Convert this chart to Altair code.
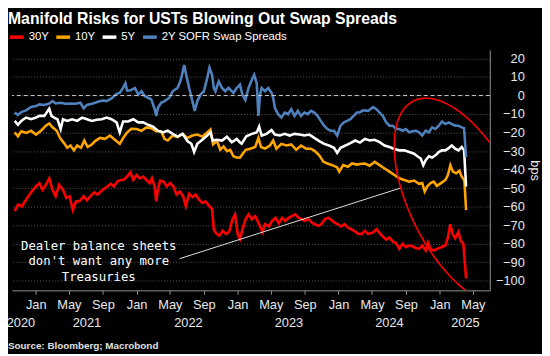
import altair as alt
import numpy as np
import pandas as pd

# ---------------- data (decimal year, bps) ----------------
SERIES = ["30Y", "10Y", "5Y", "2Y SOFR Swap Spreads"]
COLORS = ["#ff0000", "#ffa500", "#ffffff", "#4f81bd"]

S30Y = [(2020.792,-62.4),(2020.824,-58.9),(2020.863,-59.8),(2020.905,-56.2),(2020.954,-52.3),(2021.003,-49.1),(2021.036,-47.3),(2021.068,-50.9),(2021.100,-48.2),(2021.134,-44.7),(2021.166,-50.9),(2021.198,-54.4),(2021.231,-48.2),(2021.270,-50.9),(2021.302,-55.3),(2021.335,-54.4),(2021.368,-61.9),(2021.400,-57.1),(2021.432,-57.1),(2021.475,-54.4),(2021.507,-56.6),(2021.540,-54.4),(2021.579,-52.3),(2021.612,-53.5),(2021.644,-51.8),(2021.676,-50.5),(2021.709,-49.1),(2021.741,-47.7),(2021.774,-49.1),(2021.807,-46.5),(2021.839,-45.6),(2021.871,-45.5),(2021.904,-43.8),(2021.937,-41.5),(2021.966,-45.6),(2021.998,-42.9),(2022.031,-44.7),(2022.063,-43.8),(2022.096,-45.6),(2022.129,-47.3),(2022.151,-44.7),(2022.178,-49.1),(2022.193,-57.1),(2022.210,-50.9),(2022.232,-45.9),(2022.265,-46.5),(2022.298,-49.1),(2022.330,-47.3),(2022.363,-49.1),(2022.395,-53.5),(2022.427,-51.8),(2022.460,-54.4),(2022.486,-59.8),(2022.519,-53.0),(2022.551,-54.8),(2022.583,-53.5),(2022.617,-56.2),(2022.649,-58.0),(2022.681,-57.1),(2022.714,-59.4),(2022.746,-61.2),(2022.763,-72.2),(2022.785,-74.3),(2022.818,-75.7),(2022.851,-73.0),(2022.883,-74.8),(2022.915,-73.6),(2022.948,-66.8),(2022.974,-64.2),(2023.000,-74.8),(2023.022,-77.5),(2023.049,-72.0),(2023.080,-66.5),(2023.107,-64.2),(2023.140,-66.8),(2023.173,-65.1),(2023.205,-68.6),(2023.244,-73.6),(2023.270,-69.5),(2023.309,-70.7),(2023.341,-67.7),(2023.374,-66.0),(2023.407,-69.0),(2023.439,-66.0),(2023.471,-67.7),(2023.504,-66.0),(2023.537,-65.1),(2023.569,-64.2),(2023.602,-66.0),(2023.634,-66.8),(2023.666,-67.7),(2023.699,-66.5),(2023.732,-68.6),(2023.764,-69.5),(2023.797,-70.4),(2023.829,-69.5),(2023.861,-66.8),(2023.895,-66.0),(2023.927,-67.2),(2023.959,-68.6),(2023.992,-69.5),(2024.024,-70.7),(2024.057,-69.5),(2024.090,-71.3),(2024.122,-72.2),(2024.154,-73.0),(2024.187,-74.5),(2024.226,-74.8),(2024.259,-73.0),(2024.291,-74.8),(2024.340,-73.9),(2024.373,-72.2),(2024.405,-74.3),(2024.437,-76.1),(2024.470,-77.8),(2024.502,-76.6),(2024.535,-78.9),(2024.568,-79.6),(2024.600,-82.8),(2024.632,-80.1),(2024.665,-81.9),(2024.698,-81.0),(2024.730,-81.4),(2024.763,-82.3),(2024.795,-82.8),(2024.827,-81.0),(2024.861,-83.7),(2024.883,-79.3),(2024.909,-82.8),(2024.941,-83.7),(2024.973,-82.8),(2025.012,-81.9),(2025.056,-81.0),(2025.081,-76.6),(2025.105,-69.5),(2025.127,-74.8),(2025.153,-77.1),(2025.185,-73.6),(2025.208,-78.4),(2025.234,-80.1),(2025.261,-98.8)]

S10Y = [(2020.792,-19.9),(2020.824,-22.0),(2020.857,-19.3),(2020.905,-20.2),(2020.954,-19.0),(2021.003,-21.1),(2021.052,-19.0),(2021.100,-16.3),(2021.134,-15.1),(2021.166,-17.2),(2021.208,-19.0),(2021.241,-22.9),(2021.280,-25.7),(2021.312,-28.2),(2021.344,-27.0),(2021.378,-29.6),(2021.410,-27.0),(2021.449,-28.2),(2021.481,-24.3),(2021.514,-27.8),(2021.556,-26.4),(2021.588,-24.6),(2021.637,-22.9),(2021.686,-23.4),(2021.735,-21.6),(2021.783,-23.9),(2021.832,-26.1),(2021.871,-22.5),(2021.904,-20.0),(2021.946,-18.0),(2021.998,-18.1),(2022.047,-19.0),(2022.096,-17.2),(2022.144,-17.6),(2022.193,-19.3),(2022.242,-19.3),(2022.275,-23.4),(2022.307,-24.3),(2022.356,-21.6),(2022.405,-22.5),(2022.454,-20.7),(2022.502,-22.9),(2022.551,-21.6),(2022.600,-21.1),(2022.649,-22.2),(2022.698,-19.9),(2022.730,-18.3),(2022.756,-26.4),(2022.795,-24.6),(2022.827,-29.3),(2022.860,-27.5),(2022.893,-30.0),(2022.925,-29.3),(2022.958,-32.8),(2022.990,-33.5),(2023.022,-33.6),(2023.055,-31.0),(2023.080,-29.3),(2023.124,-28.7),(2023.173,-27.8),(2023.205,-22.9),(2023.231,-27.8),(2023.270,-28.7),(2023.319,-27.0),(2023.351,-24.3),(2023.383,-28.7),(2023.432,-26.1),(2023.481,-27.0),(2023.530,-26.4),(2023.579,-29.3),(2023.627,-27.0),(2023.676,-28.7),(2023.725,-28.7),(2023.764,-30.0),(2023.807,-32.3),(2023.849,-35.8),(2023.888,-36.7),(2023.937,-37.6),(2023.985,-38.8),(2024.005,-41.1),(2024.044,-37.6),(2024.090,-38.5),(2024.132,-36.7),(2024.180,-37.3),(2024.210,-37.0),(2024.259,-36.7),(2024.307,-37.9),(2024.356,-35.8),(2024.405,-37.6),(2024.454,-39.4),(2024.502,-41.1),(2024.551,-42.9),(2024.600,-44.7),(2024.649,-45.6),(2024.698,-46.5),(2024.746,-45.9),(2024.795,-47.7),(2024.827,-47.3),(2024.851,-51.8),(2024.876,-49.1),(2024.909,-47.3),(2024.941,-46.5),(2024.973,-48.8),(2025.012,-47.3),(2025.056,-45.6),(2025.081,-42.9),(2025.105,-37.6),(2025.130,-41.1),(2025.163,-42.0),(2025.195,-40.6),(2025.218,-43.8),(2025.244,-45.9),(2025.261,-61.9)]

S5Y = [(2020.792,-13.7),(2020.824,-15.8),(2020.857,-13.7),(2020.905,-11.9),(2020.954,-12.8),(2021.003,-11.9),(2021.036,-11.0),(2021.085,-11.0),(2021.134,-7.1),(2021.156,-11.0),(2021.182,-11.9),(2021.215,-12.8),(2021.247,-18.1),(2021.270,-12.8),(2021.312,-13.7),(2021.361,-12.8),(2021.410,-13.7),(2021.459,-11.9),(2021.507,-12.8),(2021.556,-13.7),(2021.605,-13.1),(2021.654,-12.8),(2021.702,-11.9),(2021.751,-12.8),(2021.800,-14.5),(2021.832,-19.9),(2021.865,-14.0),(2021.914,-14.0),(2021.966,-12.8),(2022.015,-14.5),(2022.063,-14.5),(2022.112,-15.8),(2022.161,-16.8),(2022.210,-19.0),(2022.259,-19.9),(2022.307,-19.0),(2022.356,-20.7),(2022.405,-22.2),(2022.454,-20.7),(2022.502,-24.6),(2022.541,-26.1),(2022.568,-30.5),(2022.600,-26.1),(2022.649,-23.9),(2022.698,-21.6),(2022.730,-19.9),(2022.753,-24.3),(2022.795,-23.9),(2022.844,-24.3),(2022.893,-22.2),(2022.941,-25.2),(2022.990,-23.4),(2023.020,-25.2),(2023.039,-26.0),(2023.085,-22.0),(2023.140,-20.7),(2023.188,-19.9),(2023.212,-16.8),(2023.237,-21.6),(2023.286,-20.7),(2023.335,-18.6),(2023.368,-21.1),(2023.417,-21.6),(2023.465,-20.7),(2023.514,-21.6),(2023.563,-20.7),(2023.612,-21.1),(2023.660,-21.6),(2023.709,-21.1),(2023.758,-22.9),(2023.807,-24.6),(2023.856,-26.1),(2023.904,-27.0),(2023.953,-28.2),(2023.985,-31.0),(2024.018,-28.2),(2024.066,-27.0),(2024.115,-25.7),(2024.164,-24.3),(2024.210,-25.4),(2024.259,-23.4),(2024.307,-24.3),(2024.356,-23.9),(2024.405,-25.2),(2024.454,-27.0),(2024.502,-27.8),(2024.551,-28.9),(2024.600,-29.6),(2024.649,-29.6),(2024.698,-30.5),(2024.746,-31.4),(2024.779,-32.8),(2024.812,-34.0),(2024.837,-37.6),(2024.861,-34.9),(2024.893,-32.8),(2024.925,-33.5),(2024.958,-32.3),(2024.990,-30.5),(2025.022,-29.6),(2025.056,-29.6),(2025.088,-28.4),(2025.120,-27.0),(2025.153,-28.7),(2025.185,-29.6),(2025.218,-27.8),(2025.241,-29.6),(2025.261,-49.1)]

S2Y = [(2020.792,-9.2),(2020.824,-10.5),(2020.857,-8.9),(2020.905,-8.0),(2020.954,-6.2),(2021.003,-5.7),(2021.036,-4.8),(2021.085,-5.1),(2021.134,-4.3),(2021.166,-3.0),(2021.198,-4.3),(2021.247,-3.9),(2021.296,-4.4),(2021.344,-4.3),(2021.393,-4.4),(2021.442,-3.9),(2021.475,-6.9),(2021.507,-5.1),(2021.556,-4.4),(2021.588,-3.9),(2021.637,-3.0),(2021.670,-2.7),(2021.702,-3.0),(2021.751,-1.6),(2021.800,0.9),(2021.832,1.4),(2021.865,4.1),(2021.888,6.6),(2021.904,2.7),(2021.934,2.7),(2021.982,4.1),(2022.015,0.5),(2022.047,2.3),(2022.080,-0.4),(2022.112,-1.2),(2022.144,-2.1),(2022.178,-7.4),(2022.193,-11.0),(2022.210,-6.6),(2022.242,-3.9),(2022.275,-3.0),(2022.324,-1.2),(2022.356,2.3),(2022.405,4.1),(2022.437,8.5),(2022.470,16.5),(2022.493,10.3),(2022.519,4.1),(2022.551,-3.0),(2022.574,-8.3),(2022.600,-3.0),(2022.632,0.5),(2022.665,2.3),(2022.698,9.4),(2022.720,15.1),(2022.746,11.2),(2022.763,4.1),(2022.779,2.3),(2022.812,7.6),(2022.844,4.1),(2022.876,2.3),(2022.909,4.1),(2022.958,1.4),(2022.990,4.1),(2023.022,5.9),(2023.046,0.5),(2023.075,-2.4),(2023.107,4.1),(2023.140,8.5),(2023.163,11.2),(2023.188,6.7),(2023.205,-11.0),(2023.221,0.5),(2023.237,4.1),(2023.270,2.3),(2023.302,4.1),(2023.335,1.4),(2023.351,-1.2),(2023.368,-6.6),(2023.400,-10.1),(2023.432,-11.9),(2023.465,-9.2),(2023.498,-10.1),(2023.530,-7.4),(2023.563,-11.0),(2023.595,-8.3),(2023.627,-11.0),(2023.660,-9.2),(2023.693,-10.1),(2023.725,-8.3),(2023.758,-9.2),(2023.790,-11.0),(2023.822,-13.7),(2023.856,-16.3),(2023.888,-18.1),(2023.920,-19.0),(2023.953,-19.0),(2023.985,-21.6),(2024.018,-16.3),(2024.051,-14.5),(2024.083,-13.7),(2024.115,-12.8),(2024.148,-11.0),(2024.180,-9.2),(2024.210,-9.0),(2024.242,-8.0),(2024.291,-8.3),(2024.340,-6.2),(2024.373,-7.4),(2024.405,-9.2),(2024.437,-11.0),(2024.470,-14.5),(2024.502,-16.3),(2024.535,-16.3),(2024.568,-18.1),(2024.600,-18.1),(2024.632,-19.0),(2024.665,-18.1),(2024.698,-19.9),(2024.730,-19.3),(2024.763,-19.0),(2024.795,-19.9),(2024.827,-21.6),(2024.861,-19.0),(2024.893,-19.9),(2024.925,-17.2),(2024.958,-18.1),(2024.990,-16.3),(2025.022,-14.0),(2025.056,-15.4),(2025.088,-14.5),(2025.120,-15.4),(2025.153,-16.3),(2025.185,-16.3),(2025.218,-17.2),(2025.241,-17.6),(2025.261,-33.2)]

Y_TICKS = list(range(-100, 21, 10))
MONTH_TICKS = [(y, m) for y in range(2021, 2026) for m in (1, 5, 9) if not (y == 2025 and m == 9)]
YEAR_LABELS = ["2020", "2021", "2022", "2023", "2024", "2025"]
YEAR_POS = [2020.854, 2021.507, 2022.512, 2023.507, 2024.502, 2025.254]

TITLE = "Manifold Risks for USTs Blowing Out Swap Spreads"
SOURCE = "Source: Bloomberg; Macrobond"
NOTE_TEXT = "Dealer balance sheets\ndon't want any more\nTreasuries"
NOTE_POS = (2021.624, -81.4)
NOTE_LINE = [(2022.424, -88.1), (2024.620, -49.8)]
# hand-drawn red ellipse: centre, horizontal half-chord, conjugate half-diameter (year, bps)
ELLIPSE_C = (2025.234, -57.3)
ELLIPSE_U = (0.5756, 0.0)
ELLIPSE_V = (-0.3707, 55.85)


def to_date(t):
    t = np.asarray(t, dtype=float)
    return pd.Timestamp("2021-01-01") + pd.to_timedelta(np.round((t - 2021.0) * 365.25 * 86400), unit="s")


rows = []
for name, pts in zip(SERIES, [S30Y, S10Y, S5Y, S2Y]):
    t, v = zip(*pts)
    rows.append(pd.DataFrame({"date": to_date(t), "value": v, "series": name}))
df = pd.concat(rows, ignore_index=True)

W, H = 485, 244
FONT = "Liberation Sans"

x_scale = alt.Scale(domain=[alt.DateTime(year=2020, month=10, date=7),
                            alt.DateTime(year=2025, month=7, date=1)])
y_scale = alt.Scale(domain=[-105.2, 24.6], nice=False, zero=False)

x_axis = alt.Axis(values=[alt.DateTime(year=y, month=m, date=1) for y, m in MONTH_TICKS],
                  format="%b", title=None, grid=False, labelColor="#e8e8e8",
                  labelFont=FONT, labelFontSize=13, labelAngle=0, labelOverlap=False,
                  labelFlush=False, labelPadding=4, tickColor="#909090", tickSize=4,
                  domainColor="#909090")
y_axis = alt.Axis(orient="right", values=Y_TICKS, grid=True, gridColor="#5a5a5a",
                  gridDash=[1, 2], ticks=False, domainColor="#909090",
                  labelColor="#e8e8e8", labelFont=FONT, labelFontSize=13,
                  labelAlign="right", labelPadding=35, title="bps",
                  titleColor="#e8e8e8", titleFont=FONT, titleFontSize=13,
                  titleFontWeight="normal", titlePadding=3)

X = lambda: alt.X("date:T", scale=x_scale, axis=x_axis)
Y = lambda: alt.Y("value:Q", scale=y_scale, axis=y_axis)

lines = alt.Chart(df).mark_line(strokeWidth=2.6, clip=True).encode(
    x=X(), y=Y(),
    color=alt.Color("series:N", scale=alt.Scale(domain=SERIES, range=COLORS),
                    legend=alt.Legend(orient="none", legendX=-4, legendY=-22,
                                      direction="horizontal", title=None,
                                      symbolType="stroke", symbolSize=196,
                                      symbolStrokeWidth=3.5, labelColor="#ffffff",
                                      labelFont=FONT, labelFontSize=11.5,
                                      labelOffset=3, columnPadding=0, padding=0)),
)

zero = alt.Chart(pd.DataFrame({"value": [0]})).mark_rule(
    color="#c8c8c8", strokeDash=[4, 3], strokeWidth=1).encode(y=Y())

nl = pd.DataFrame({"date": to_date([p[0] for p in NOTE_LINE]), "value": [p[1] for p in NOTE_LINE]})
note_line = alt.Chart(nl).mark_line(color="#e0e0e0", strokeWidth=1).encode(x=X(), y=Y())

nt = pd.DataFrame({"date": to_date([NOTE_POS[0]]), "value": [NOTE_POS[1]], "txt": [NOTE_TEXT]})
note_text = alt.Chart(nt).mark_text(
    font="DejaVu Sans Mono", fontSize=12.5, color="#ffffff", align="center",
    baseline="middle", lineBreak="\n", lineHeight=15.5).encode(x=X(), y=Y(), text="txt:N")

th = np.linspace(0, 2 * np.pi, 241)
et = ELLIPSE_C[0] + ELLIPSE_U[0] * np.cos(th) + ELLIPSE_V[0] * np.sin(th)
ev = ELLIPSE_C[1] + ELLIPSE_U[1] * np.cos(th) + ELLIPSE_V[1] * np.sin(th)
ell = pd.DataFrame({"date": to_date(et), "value": ev, "i": np.arange(len(th))})
ellipse = alt.Chart(ell).mark_line(color="#ff0000", strokeWidth=1.6, clip=True).encode(
    x=X(), y=Y(), order="i:Q")

yl = pd.DataFrame({"date": to_date(YEAR_POS), "lab": YEAR_LABELS})
years = alt.Chart(yl).mark_text(font=FONT, fontSize=13, color="#e8e8e8",
                                align="center", baseline="middle").encode(
    x=X(), y=alt.value(H + 33.6), text="lab:N")

src = alt.Chart(pd.DataFrame({"s": [SOURCE]})).mark_text(
    font=FONT, fontSize=10, fontWeight="bold", color="#e0e0e0",
    align="left", baseline="middle").encode(x=alt.value(-4), y=alt.value(H + 57), text="s:N")

chart = alt.layer(lines, zero, note_line, note_text, ellipse, years, src).properties(
    width=W, height=H,
    title=alt.TitleParams(TITLE, anchor="start", frame="group", dx=-4, font=FONT,
                          fontSize=16, fontWeight="bold", color="#ffffff", offset=1),
    background="#000000",
    padding={"left": 4, "top": 40, "right": 53, "bottom": 62},
    autosize=alt.AutoSizeParams(type="none"),
).configure_view(stroke="transparent")

chart.save("out.html", embed_options={"renderer": "svg", "actions": False})
